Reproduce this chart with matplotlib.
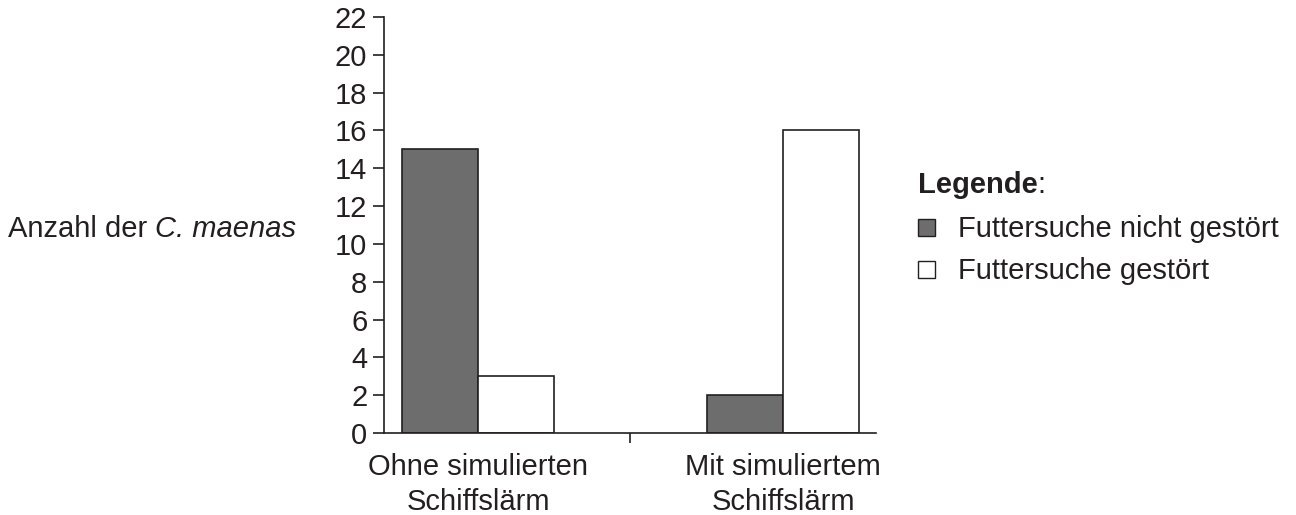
import numpy as np
import matplotlib
matplotlib.use('Agg')
import matplotlib.pyplot as plt
import matplotlib.transforms as mtrans
from matplotlib.patches import Rectangle

plt.rcParams['font.family'] = ['Liberation Sans', 'DejaVu Sans']

# Daten
kategorien = ['Ohne simulierten\nSchiffslärm', 'Mit simuliertem\nSchiffslärm']
nicht_gestoert = [15, 2]
gestoert = [3, 16]
y_ticks = list(range(0, 23, 2))

ink = '#231f20'
dunkel = '#6d6d6d'
fs = 21
W, H = 1296, 515

fig = plt.figure(figsize=(12.96, 5.15), dpi=100)
ax = fig.add_axes([384 / W, 1 - 433 / H, (876 - 384) / W, (433 - 17) / H])

x = np.arange(len(kategorien))
breite = 0.249
ax.bar(x - breite / 2, nicht_gestoert, breite, color=dunkel, edgecolor=ink, linewidth=1.2)
ax.bar(x + breite / 2, gestoert, breite, color='white', edgecolor=ink, linewidth=1.2)

ax.set_xlim(-0.308, 1.305)
ax.set_ylim(0, 22)
ax.set_yticks(y_ticks)
ax.set_yticklabels([str(v) for v in y_ticks], fontsize=fs, color=ink)
ax.tick_params(axis='y', length=8, width=1.2, color=ink, pad=4)

# Trennstrich zwischen den Gruppen statt Kategorie-Ticks
ax.set_xticks([0.5])
ax.set_xticklabels([''])
ax.tick_params(axis='x', length=7, width=1.2, color=ink)

# Kategorienamen zeilenweise (Grundlinien bei 475 und 510 px)
trans = mtrans.blended_transform_factory(ax.transData, fig.transFigure)
for i, lab in enumerate(kategorien):
    for zeile, yy in zip(lab.split('\n'), [475, 510]):
        fig.text(x[i], 1 - yy / H, zeile, ha='center', va='baseline', fontsize=fs,
                 color=ink, transform=trans)

for s in ['top', 'right']:
    ax.spines[s].set_visible(False)
for s in ['left', 'bottom']:
    ax.spines[s].set_linewidth(1.2)
    ax.spines[s].set_color(ink)

# y-Beschriftung: normal + kursiv
t_it = fig.text(296 / W, 1 - 237 / H, 'C. maenas', ha='right', va='baseline',
                fontsize=fs, color=ink, style='italic')
ax.annotate('Anzahl der ', xy=(0, 0), xycoords=t_it, ha='right', va='bottom',
            fontsize=fs, color=ink, annotation_clip=False)

# Legende
t_leg = fig.text(918 / W, 1 - 193 / H, 'Legende', fontsize=fs, fontweight='bold',
                 color=ink, va='baseline', ha='left')
ax.annotate(':', xy=(1, 0), xycoords=t_leg, ha='left', va='bottom',
            fontsize=fs, color=ink, annotation_clip=False)

for yb, farbe, text in [(237, dunkel, 'Futtersuche nicht gestört'),
                        (279, 'white', 'Futtersuche gestört')]:
    fig.patches.append(Rectangle((918 / W, 1 - (yb - 1) / H), 17 / W, 17 / H,
                                 transform=fig.transFigure, facecolor=farbe,
                                 edgecolor=ink, linewidth=1.0))
    fig.text(958 / W, 1 - yb / H, text, fontsize=fs, color=ink,
             va='baseline', ha='left')

fig.savefig('out.png', dpi=100, facecolor='white')
